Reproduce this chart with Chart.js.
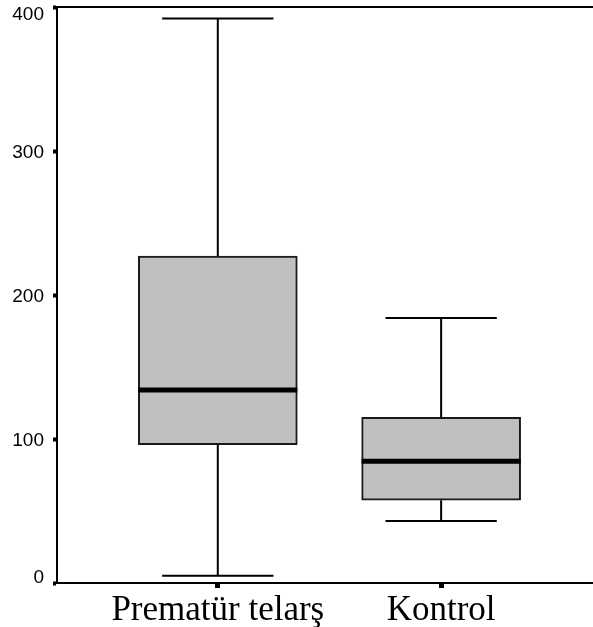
<!DOCTYPE html>
<html>
<head>
<meta charset="utf-8">
<script src="https://cdn.jsdelivr.net/npm/chart.js@4/dist/chart.umd.min.js"></script>
<style>
  html, body { margin: 0; padding: 0; background: #fff; }
  #boxChart { display: block; }
</style>
</head>
<body>
<canvas id="boxChart" width="593" height="627"></canvas>
<script>
  // five-number summary per group
  const groups = ['Prematür telarş', 'Kontrol'];
  const minVals = [5, 43];
  const q1Vals = [96, 57.5];
  const medianVals = [134, 84.5];
  const q3Vals = [227, 115];
  const maxVals = [392, 184];
  const yTicks = [0, 100, 200, 300, 400];

  // whiskers, caps and median lines on top of the floating bars
  const boxExtras = {
    id: 'boxExtras',
    afterDatasetsDraw(chart, args, opts) {
      const { ctx, scales: { x, y } } = chart;
      const meta = chart.getDatasetMeta(0);
      ctx.save();
      ctx.strokeStyle = '#000';
      groups.forEach((g, i) => {
        const bar = meta.data[i];
        const cx = x.getPixelForValue(i + 1);
        const half = bar.width / 2;
        const capHalf = half * opts.capRatio;
        const yMin = y.getPixelForValue(minVals[i]);
        const yQ1 = y.getPixelForValue(q1Vals[i]);
        const yQ3 = y.getPixelForValue(q3Vals[i]);
        const yMax = y.getPixelForValue(maxVals[i]);
        const yMed = y.getPixelForValue(medianVals[i]);

        ctx.lineWidth = 2;
        ctx.beginPath();
        ctx.moveTo(cx, yQ3); ctx.lineTo(cx, yMax);
        ctx.moveTo(cx - capHalf, yMax); ctx.lineTo(cx + capHalf, yMax);
        ctx.moveTo(cx, yQ1); ctx.lineTo(cx, yMin);
        ctx.moveTo(cx - capHalf, yMin); ctx.lineTo(cx + capHalf, yMin);
        ctx.stroke();

        ctx.lineWidth = 5;
        ctx.beginPath();
        ctx.moveTo(cx - half, yMed); ctx.lineTo(cx + half, yMed);
        ctx.stroke();
      });
      ctx.restore();
    }
  };

  // y tick labels, kept inside the plot's vertical span at both ends
  const yLabels = {
    id: 'yLabels',
    afterDraw(chart, args, opts) {
      const { ctx, chartArea, scales: { y } } = chart;
      const capH = opts.size * 0.716;
      ctx.save();
      ctx.fillStyle = '#000';
      ctx.font = opts.size + 'px ' + opts.family;
      ctx.textAlign = 'right';
      ctx.textBaseline = 'alphabetic';
      y.ticks.forEach(t => {
        const py = y.getPixelForValue(t.value);
        const base = Math.min(Math.max(py + capH / 2, chartArea.top + capH - 1), chartArea.bottom);
        ctx.fillText(String(t.value), chartArea.left - opts.gap, base);
      });
      ctx.restore();
    }
  };

  new Chart(document.getElementById('boxChart'), {
    type: 'bar',
    data: {
      datasets: [{
        data: groups.map((g, i) => ({ x: i + 1, y: [q1Vals[i], q3Vals[i]] })),
        backgroundColor: '#c0c0c0',
        borderColor: '#1a1a1a',
        borderWidth: 2,
        borderSkipped: false,
        barThickness: 159
      }]
    },
    options: {
      responsive: false,
      animation: false,
      layout: { padding: 0 },
      plugins: {
        legend: { display: false },
        tooltip: { enabled: false },
        boxExtras: { capRatio: 0.7 },
        yLabels: { size: 19, family: '"Liberation Sans", Arial, sans-serif', gap: 13 }
      },
      scales: {
        x: {
          type: 'linear',
          position: 'bottom',
          offset: false,
          min: 0.28,
          max: 2.68,
          afterBuildTicks: axis => { axis.ticks = groups.map((g, i) => ({ value: i + 1 })); },
          afterFit: axis => {
            axis.height = 44;
            axis.paddingLeft = 0;
            axis.paddingRight = 0;
          },
          ticks: {
            callback: v => groups[v - 1],
            color: '#000',
            padding: 2,
            maxRotation: 0,
            autoSkip: false,
            font: { family: '"Liberation Serif", "Times New Roman", serif', size: 35 }
          },
          grid: {
            offset: false,
            drawOnChartArea: false,
            color: '#000',
            tickLength: 5,
            tickWidth: 5
          },
          border: { color: '#000', width: 2 }
        },
        top: {
          type: 'linear',
          position: 'top',
          min: 0,
          max: 1,
          afterFit: axis => { axis.height = 7; },
          ticks: { display: false },
          grid: { drawOnChartArea: false, drawTicks: false },
          border: { color: '#000', width: 2 }
        },
        y: {
          min: 0,
          max: 400,
          afterBuildTicks: axis => { axis.ticks = yTicks.map(v => ({ value: v })); },
          afterFit: axis => {
            axis.width = 57;
            axis.paddingTop = 0;
            axis.paddingBottom = 0;
          },
          ticks: { display: false },
          grid: {
            drawOnChartArea: false,
            color: '#000',
            tickLength: 4,
            tickWidth: 4
          },
          border: { color: '#000', width: 2 }
        }
      }
    },
    plugins: [boxExtras, yLabels]
  });
</script>
</body>
</html>
